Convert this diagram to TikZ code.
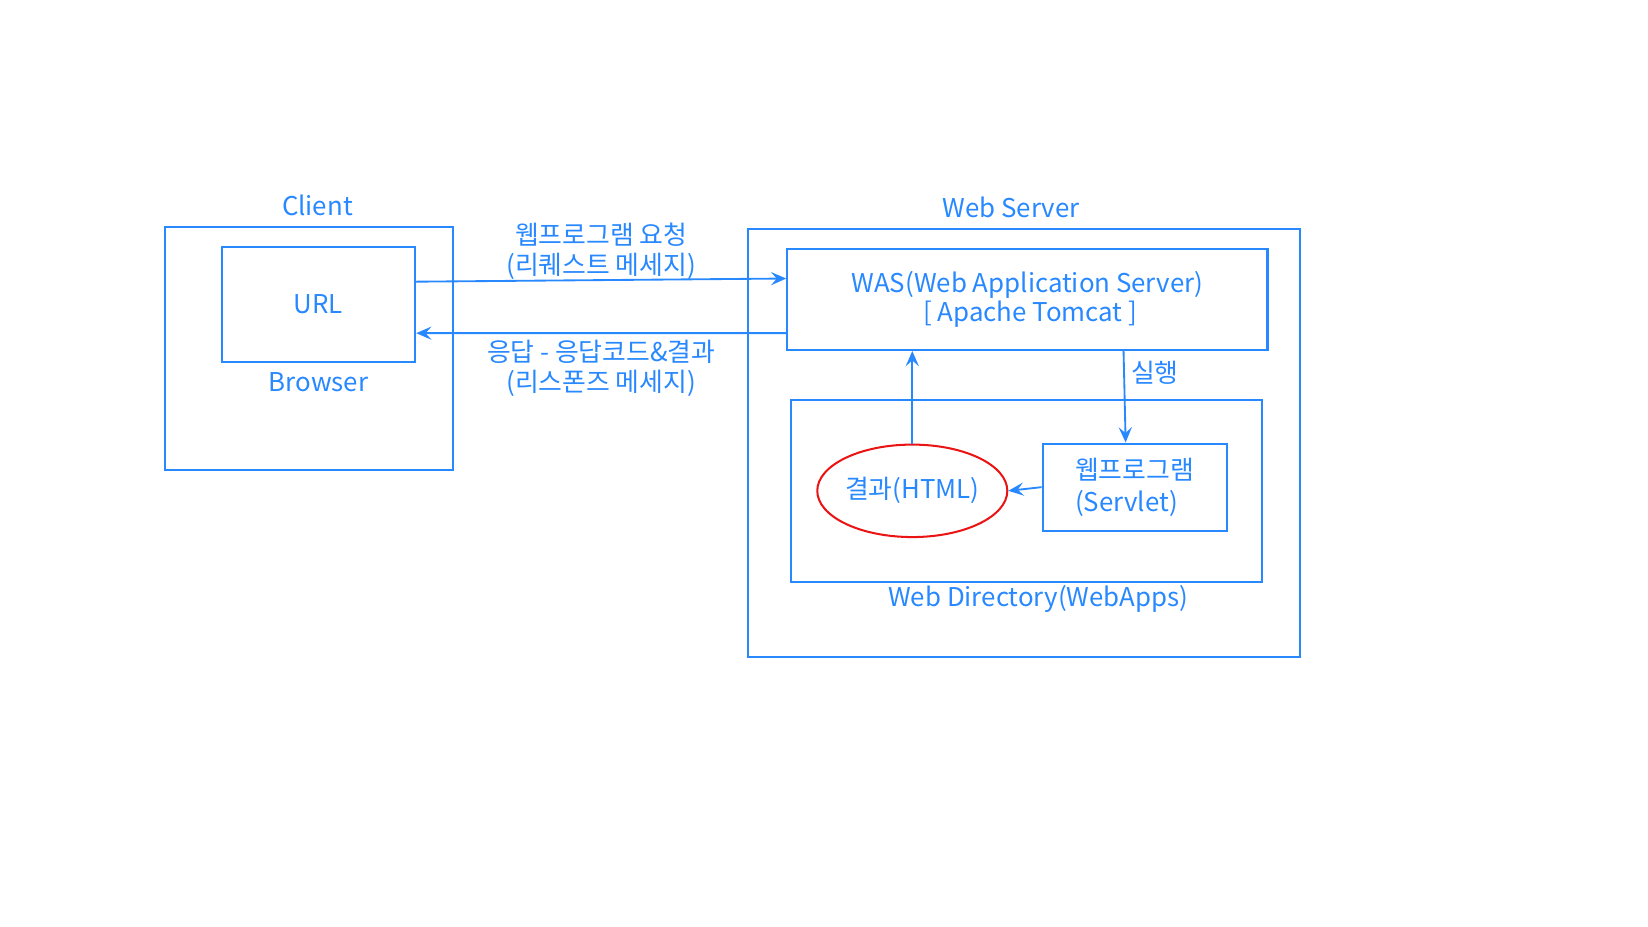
\documentclass[tikz,border=0pt]{standalone}
\usepackage{fontspec}
\setmainfont{Noto Sans CJK KR}
\usetikzlibrary{arrows.meta,shapes.geometric}
\definecolor{wblue}{RGB}{40,136,255}
\definecolor{wred}{RGB}{235,20,20}

\begin{document}
\begin{tikzpicture}[x=0.02cm,y=-0.02cm]
  \tikzset{
    box/.style={draw=wblue, rectangle, line width=1.1pt, inner sep=0pt, text=wblue, font=\fontsize{14}{16}\selectfont},
    res/.style={draw=wred, ellipse, line width=1.1pt, inner sep=0pt, text=wblue, font=\fontsize{14}{16}\selectfont},
    lbl/.style={text=wblue, align=center, font=\fontsize{14}{16}\selectfont},
    line/.style={draw=wblue, line width=1pt, -{Stealth[length=2.9mm, width=2.5mm, inset=1.1mm]}}
  }
  \useasboundingbox (0,0) rectangle (1568,882);
  % client side
  \node [box, minimum width=5.48cm, minimum height=4.62cm] (client) at (294,331.5) {};
  \node [lbl] (clientlbl) at (302,195) {Client};
  \node [box, minimum width=3.68cm, minimum height=2.18cm] (url) at (303,289.5) {URL};
  \node [lbl] (browser) at (303,364) {Browser};
  % server side
  \node [box, minimum width=10.5cm, minimum height=8.14cm] (server) at (974.5,421.5) {};
  \node [lbl] (serverlbl) at (962,197) {Web Server};
  \node [box, align=center, minimum width=9.14cm, minimum height=1.92cm] (was) at (977.5,285) {WAS(Web Application Server)\\ \ [ Apache Tomcat ]};
  \node [box, minimum width=8.96cm, minimum height=3.46cm] (webapps) at (977,467.5) {};
  \node [lbl] (webappslbl) at (988,570) {Web Directory(WebApps)};
  \node [res, minimum width=3.52cm, minimum height=1.76cm] (html) at (868,467) {결과(HTML)};
  \node [box, align=left, minimum width=3.5cm, minimum height=1.66cm] (servlet) at (1079.5,463.5) {웹프로그램\\[1pt](Servlet)};

  \path [line] ([yshift=0.43cm]url.east) -- node[lbl, above, yshift=-0.12cm]{웹프로그램 요청\\(리퀘스트 메세지)} ([yshift=0.4cm]was.west);
  \path [line] ([yshift=-0.64cm]was.west) -- node[lbl, below]{응답 - 응답코드\&결과\\(리스폰즈 메세지)} ([yshift=-0.55cm]url.east);
  \path [line] (html.north) -- (html.north |- was.south);
  \path [line] ([xshift=-0.21cm]servlet.north |- was.south) -- node[lbl, right, pos=0.24]{실행} ([xshift=-0.17cm]servlet.north);
  \path [line] (servlet.west) -- (html.east);
\end{tikzpicture}
\end{document}
